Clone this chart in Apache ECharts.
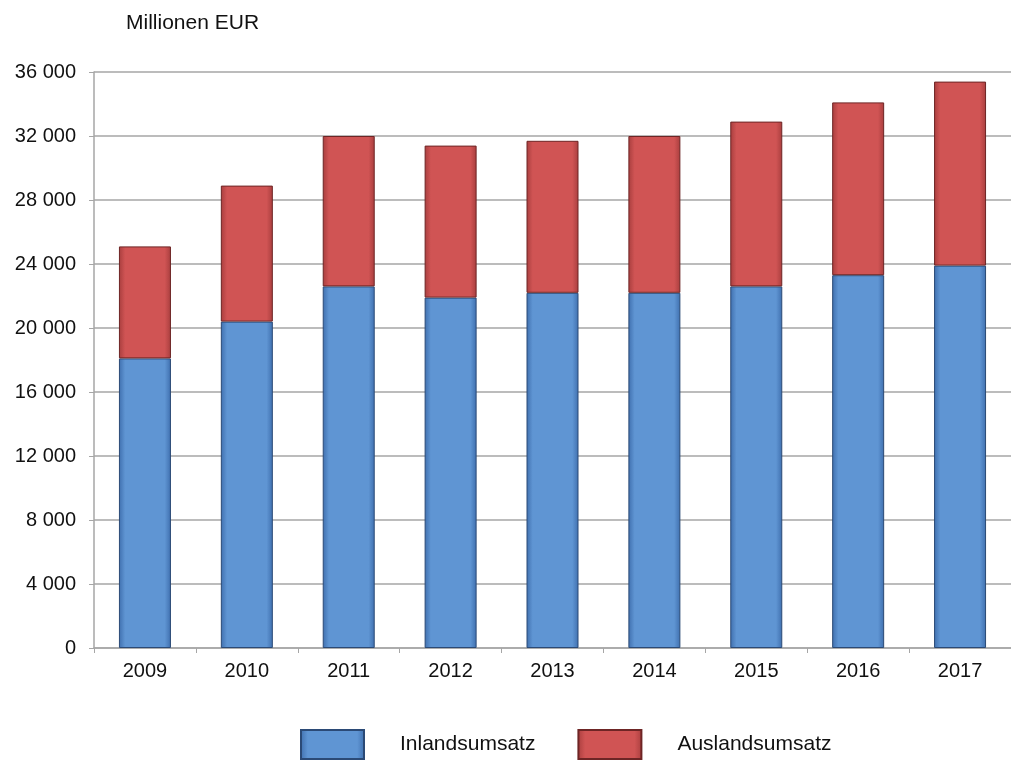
<!DOCTYPE html>
<html><head><meta charset="utf-8">
<script src="https://cdn.jsdelivr.net/npm/echarts@6/dist/echarts.min.js"></script>
<style>html,body{margin:0;padding:0;background:#fff}#c{width:1011px;height:762px}</style>
</head><body><div id="c"></div>
<script>
const years = ['2009','2010','2011','2012','2013','2014','2015','2016','2017'];
const inland = [18100, 20400, 22600, 21900, 22200, 22200, 22600, 23300, 23900];
const ausland = [7000, 8500, 9400, 9500, 9500, 9800, 10300, 10800, 11500];
const seriesNames = ['Inlandsumsatz', 'Auslandsumsatz'];
const unitLabel = 'Millionen EUR';

function grad(edge, mid) {
  return new echarts.graphic.LinearGradient(0, 0, 1, 0, [
    {offset: 0, color: edge}, {offset: 0.12, color: mid},
    {offset: 0.88, color: mid}, {offset: 1, color: edge}
  ]);
}
const chart = echarts.init(document.getElementById('c'));
chart.setOption({
  animation: false,
  textStyle: {fontFamily: 'Liberation Sans, Arial, sans-serif'},
  title: {text: unitLabel, left: 121, top: 8, textStyle: {fontSize: 21, fontWeight: 'normal', color: '#111'}},
  grid: {left: 94, top: 72, width: 922, height: 576},
  legend: {
    top: 729, left: 300, padding: 0, itemWidth: 63, itemHeight: 29, itemGap: 42, icon: 'rect',
    textStyle: {fontSize: 21, color: '#111', padding: [0, 0, 0, 31]},
    data: seriesNames
  },
  xAxis: {
    type: 'category', data: years,
    axisLine: {lineStyle: {color: '#a6a6a6', width: 1.5}},
    axisTick: {show: true, length: 5, lineStyle: {color: '#a6a6a6'}},
    axisLabel: {fontSize: 20, color: '#111', margin: 13}
  },
  yAxis: {
    type: 'value', min: 0, max: 36000, interval: 4000,
    axisLine: {show: true, lineStyle: {color: '#a6a6a6', width: 1.5}},
    axisTick: {show: true, length: 5, lineStyle: {color: '#a6a6a6'}},
    splitLine: {lineStyle: {color: '#a6a6a6', width: 1.5}},
    axisLabel: {fontSize: 20, color: '#111', margin: 18,
      formatter: v => String(v).replace(/\B(?=(\d{3})+(?!\d))/g, ' ')}
  },
  series: [
    {name: seriesNames[0], type: 'bar', stack: 't', data: inland, barWidth: 52,
     itemStyle: {color: grad('#3f6fae', '#5f95d3'), borderColor: '#2b4a76', borderWidth: 1}},
    {name: seriesNames[1], type: 'bar', stack: 't', data: ausland, barWidth: 52,
     itemStyle: {color: grad('#a83e3e', '#d05454'), borderColor: '#6e2525', borderWidth: 1}}
  ]
});
</script></body></html>
